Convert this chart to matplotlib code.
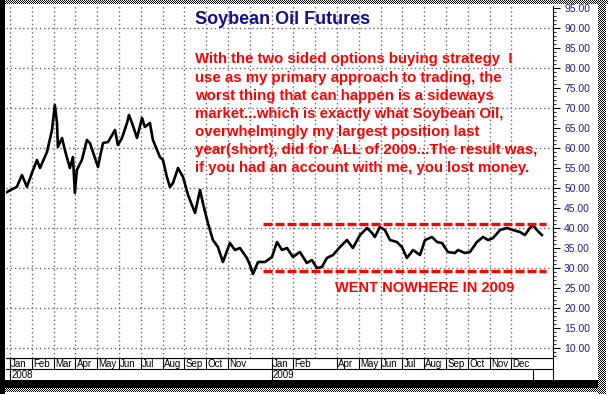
import numpy as np
import matplotlib
matplotlib.use("Agg")
import matplotlib.pyplot as plt
from matplotlib import font_manager
from matplotlib.ticker import MultipleLocator

# ...............................Data.........................................
# months since 1 Jan 2008 (0 = Jan 2008, 12 = Jan 2009), price
months = [-0.23, 0.32, 0.55, 0.78, 1.01, 1.24, 1.38, 1.70, 1.93, 2.06,
          2.16, 2.20, 2.39, 2.52, 2.75, 2.89, 2.98, 3.07, 3.30, 3.53,
          3.67, 3.90, 4.04, 4.13, 4.27, 4.50, 4.82, 4.95, 5.14, 5.37,
          5.46, 5.60, 5.83, 6.06, 6.19, 6.42, 6.56, 6.88, 7.02, 7.20,
          7.34, 7.48, 7.71, 7.94, 8.17, 8.49, 8.72, 8.85, 9.08, 9.31,
          9.54, 9.77, 10.09, 10.32, 10.55, 10.87, 11.01, 11.15, 11.38, 11.70,
          11.83, 12.02, 12.25, 12.48, 12.71, 12.98, 13.30, 13.62, 13.85, 14.08,
          14.31, 14.54, 14.82, 15.14, 15.46, 15.73, 16.06, 16.38, 16.61, 16.74,
          16.97, 17.20, 17.43, 17.75, 17.98, 18.21, 18.49, 18.81, 19.04, 19.36,
          19.59, 19.82, 20.09, 20.41, 20.55, 20.87, 21.10, 21.42, 21.70, 21.93,
          22.16, 22.48, 22.80, 23.07, 23.39, 23.62, 23.85, 23.99, 24.17, 24.40]
prices = [48.75, 50.3, 53.25, 50.3, 53.75, 57.0, 55.0, 59.0, 64.5, 70.75,
          66.25, 60.25, 62.5, 59.5, 55.0, 57.75, 48.75, 54.5, 57.0, 62.0,
          61.25, 57.5, 55.25, 57.75, 61.25, 61.5, 64.5, 60.75, 62.5, 66.25,
          68.25, 66.25, 62.5, 67.5, 65.25, 66.25, 62.0, 57.75, 57.0, 52.75,
          50.25, 51.25, 55.0, 52.75, 48.25, 43.75, 49.5, 46.25, 41.25, 37.0,
          35.25, 31.5, 36.25, 34.5, 35.0, 32.5, 30.75, 28.5, 31.5, 31.5,
          32.0, 32.75, 36.5, 34.5, 35.0, 32.75, 34.0, 31.25, 32.0, 30.0,
          30.25, 32.5, 33.25, 35.25, 37.0, 35.0, 38.25, 40.0, 38.75, 37.75,
          40.25, 39.5, 37.0, 36.5, 35.25, 32.5, 34.5, 33.25, 37.0, 37.75,
          36.5, 36.25, 34.0, 33.75, 34.5, 33.75, 34.0, 36.5, 37.75, 37.0,
          37.5, 39.5, 40.0, 39.5, 39.0, 38.25, 40.0, 40.75, 39.5, 38.25]

month_names = ["Jan", "Feb", "Mar", "Apr", "May", "Jun",
               "Jul", "Aug", "Sep", "Oct", "Nov", "Dec"]
labelled_months = [0, 1, 2, 3, 4, 5, 6, 7, 8, 9, 10,
                   12, 13, 15, 16, 17, 18, 19, 20, 21, 22, 23]
year_starts = [0, 12]
year_labels = ["2008", "2009"]

y_ticks = list(range(10, 100, 5))

range_top = 41.0
range_bottom = 29.25
range_start = 11.6
range_end = 24.6

title = "Soybean Oil Futures"
note_lines = [
    "With the two sided options buying strategy  I",
    "use as my primary approach to trading, the",
    "worst thing that can happen is a sideways",
    "market...which is exactly what Soybean Oil,",
    "overwhelmingly my largest position last",
    "year(short), did for ALL of 2009...The result was,",
    "if you had an account with me, you lost money.",
]
callout = "WENT NOWHERE IN 2009"

# ...............................Fonts........................................
installed = {f.name for f in font_manager.fontManager.ttflist}
bold_font = "Liberation Sans" if "Liberation Sans" in installed else "DejaVu Sans"
tick_font = "Liberation Sans Narrow" if "Liberation Sans Narrow" in installed else bold_font
tick_size = 9 if tick_font == "Liberation Sans Narrow" else 7.5

# ...............................Figure.......................................
W, H = 608, 394
fig = plt.figure(figsize=(W / 100, H / 100), dpi=100)


def fx(px):
    return px / W


def fy(py):
    return 1 - py / H


# border / shadow frame drawn as a picture behind everything
frame = np.ones((H, W))
checker = np.add.outer(np.arange(H), np.arange(W)) % 2 == 0
frame[0:4, :][checker[0:4, :]] = 0
frame[:, 0:5] = 0
frame[380:388, 0:598] = 0
frame[388:392, 5:598][checker[388:392, 5:598]] = 0
frame[:, 598:606][checker[:, 598:606]] = 0
bg = fig.add_axes([0, 0, 1, 1], zorder=0)
bg.imshow(frame, cmap="gray", vmin=0, vmax=1, interpolation="nearest", aspect="auto")
bg.axis("off")

ax = fig.add_axes([fx(6), fy(358), fx(553 - 6), (358 - 6) / H], zorder=2)
ax.set_xlim(-0.18, 24.91)
ax.set_ylim(7.5, 95.5)

grid_style = dict(color="#6a6a6a", lw=1.0, ls=(0, (1, 2)), zorder=1)
for m in range(0, 24):
    ax.axvline(m, **grid_style)
for v in range(10, 100, 10):
    ax.axhline(v, **grid_style)

ax.plot(months, prices, color="black", lw=1.9, zorder=3)

ax.hlines([range_top, range_bottom], range_start, range_end, colors="#ff0000",
          lw=2.4, linestyles=(0, (2.7, 0.9)), zorder=4)

ax.yaxis.tick_right()
ax.set_yticks(y_ticks)
ax.set_yticklabels([f"{v:.2f}" for v in y_ticks], family=tick_font,
                   fontsize=tick_size, color="#202080")
ax.yaxis.set_minor_locator(MultipleLocator(1))
ax.tick_params(axis="y", which="major", length=5, width=0.8, direction="out", pad=3)
ax.tick_params(axis="y", which="minor", length=2, width=0.6, direction="out")
ax.set_xticks([])
for side in ["left", "top"]:
    ax.spines[side].set_visible(False)
ax.spines["right"].set_linewidth(0.8)
ax.spines["bottom"].set_linewidth(0.8)

# .........................Month / year strip.................................
strip = fig.add_axes([fx(6), fy(380), fx(553 - 6), (380 - 358) / H], zorder=2)
strip.set_xlim(ax.get_xlim())
strip.set_ylim(0, 1)
strip.axis("off")
strip.axhline(0.5, color="black", lw=0.8)
strip.axhline(1.0, color="black", lw=0.8)
for m in labelled_months:
    strip.plot([m, m], [0.5, 1], color="black", lw=0.8)
    strip.text(m + 0.06, 0.74, month_names[m % 12], fontsize=7, family=bold_font,
               va="center", ha="left")
for m, lab in zip(year_starts, year_labels):
    strip.plot([m, m], [0, 0.5], color="black", lw=0.8)
    strip.text(m + 0.06, 0.25, lab, fontsize=7, family=bold_font, va="center", ha="left")
strip.plot([24, 24], [0, 0.5], color="black", lw=0.8)
fig.add_artist(plt.Line2D([fx(553), fx(553)], [fy(358), fy(380)], color="black", lw=0.8))

# ...............................Text.........................................
fig.text(fx(195), fy(23.5), title, fontsize=13, fontweight="bold", family=bold_font,
         color="#10108c", va="baseline", zorder=5)
for i, line in enumerate(note_lines):
    fig.text(fx(195), fy(63.5 + i * 18.07), line, fontsize=10.8, fontweight="bold",
             family=bold_font, color="#ff0000", va="baseline", zorder=5)
fig.text(fx(335), fy(292), callout, fontsize=10.5, fontweight="bold", family=bold_font,
         color="#ff0000", va="baseline", zorder=5)

fig.savefig("out.png", dpi=100)
